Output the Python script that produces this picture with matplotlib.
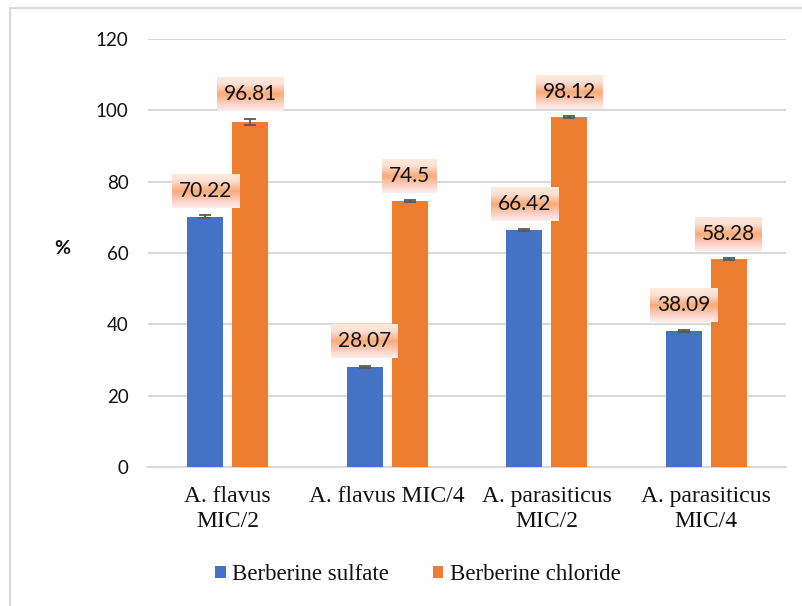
import numpy as np
import matplotlib
matplotlib.use("Agg")
import matplotlib.pyplot as plt
from matplotlib.patches import Rectangle
from matplotlib.colors import LinearSegmentedColormap

categories = ["A. flavus\nMIC/2", "A. flavus MIC/4", "A. parasiticus\nMIC/2", "A. parasiticus\nMIC/4"]
series_names = ["Berberine sulfate", "Berberine chloride"]
sulfate = [70.22, 28.07, 66.42, 38.09]
chloride = [96.81, 74.5, 98.12, 58.28]
sulfate_err = [0.3, 0.3, 0.3, 0.3]
chloride_err = [0.8, 0.3, 0.2, 0.2]
label_sulfate = ["70.22", "28.07", "66.42", "38.09"]
label_chloride = ["96.81", "74.5", "98.12", "58.28"]
yticks = [0, 20, 40, 60, 80, 100, 120]

colors = ["#4472C4", "#ED7D31"]
W, H = 803, 606
fig = plt.figure(figsize=(W / 100, H / 100), dpi=100)
ax = fig.add_axes([148 / W, 1 - 467 / H, 638 / W, 428 / H])

# outer border (only top/left visible in the reference)
fig.patches.append(Rectangle((10 / W, -0.1), 1.2, 1 - 8 / H + 0.1, transform=fig.transFigure,
                             fill=False, edgecolor="#D9D9D9", lw=1.5))

x = np.arange(len(categories))
bw = 0.226
off = 0.141
ekw = dict(ecolor="#595959", elinewidth=1.3, capsize=4, capthick=1.3)
ax.bar(x - off, sulfate, bw, color=colors[0], yerr=sulfate_err, error_kw=ekw,
       label=series_names[0], zorder=3)
ax.bar(x + off, chloride, bw, color=colors[1], yerr=chloride_err, error_kw=ekw,
       label=series_names[1], zorder=3)

ax.set_xlim(-0.5, len(categories) - 0.5)
ax.set_ylim(0, 120)
ax.set_yticks(yticks)
ax.yaxis.grid(True, color="#D9D9D9", lw=1.5, zorder=0)
ax.set_axisbelow(True)
for s in ["top", "right", "left"]:
    ax.spines[s].set_visible(False)
ax.spines["bottom"].set_color("#D9D9D9")
ax.spines["bottom"].set_linewidth(1.5)
ax.tick_params(axis="y", length=0, pad=14, labelsize=13.5, labelcolor="#111111")
ax.tick_params(axis="x", length=0, pad=14)
for lab in ax.get_yticklabels():
    lab.set_family("Lato")
ax.set_xticks(x)
ax.set_xticklabels(categories, family="Liberation Serif", fontsize=17, color="#111111",
                   linespacing=1.2)

ax.set_ylabel("%", rotation=0, family="Lato", fontweight="bold", fontsize=14, color="#111111")
ax.yaxis.set_label_coords(-0.135, 0.49)

texts = []
for xs, vals, errs, labs in [(x - off, sulfate, sulfate_err, label_sulfate),
                             (x + off, chloride, chloride_err, label_chloride)]:
    for xi, v, e, l in zip(xs, vals, errs, labs):
        t = ax.annotate(l, (xi, v + e), xytext=(0, 10.5), textcoords="offset points",
                        ha="center", va="bottom", family="Lato", fontsize=15, color="#111111",
                        bbox=dict(boxstyle="square,pad=0.33", facecolor="none", edgecolor="none"),
                        zorder=6, annotation_clip=False)
        texts.append(t)

leg = fig.legend(loc="center", bbox_to_anchor=(418 / W, 1 - 575 / H), ncol=2, frameon=False,
                 prop={"family": "Liberation Serif", "size": 16.5}, handlelength=0.45,
                 handleheight=0.45, handletextpad=0.3, columnspacing=1.9)
for t in leg.get_texts():
    t.set_color("#111111")

# gradient backgrounds behind data labels
cmap = LinearSegmentedColormap.from_list("lbl", [
    (0.0, "#FCEBD8"), (0.2, "#FCE0D6"), (0.5, "#F8AA78"), (0.8, "#FCD2C8"), (1.0, "#FDEDEC")])
grad = np.linspace(0, 1, 64).reshape(-1, 1)
fig.canvas.draw()
inv = ax.transData.inverted()
for t in texts:
    bb = t.get_bbox_patch().get_window_extent()
    (x0, y0), (x1, y1) = inv.transform([[bb.x0, bb.y0], [bb.x1, bb.y1]])
    ax.imshow(grad, cmap=cmap, extent=(x0, x1, y0, y1), aspect="auto", zorder=5,
              interpolation="bilinear", origin="upper", clip_on=False)
ax.set_xlim(-0.5, len(categories) - 0.5)
ax.set_ylim(0, 120)

fig.savefig("out.png", dpi=100)
